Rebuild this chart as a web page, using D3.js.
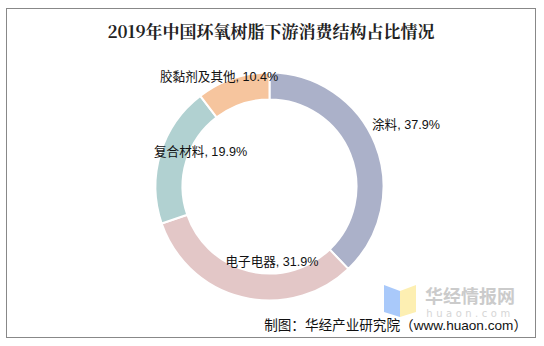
<!DOCTYPE html>
<html><head><meta charset="utf-8">
<script src="https://cdn.jsdelivr.net/npm/d3@7"></script>
<style>body{margin:0;background:#fff}svg{display:block}</style>
</head><body>
<svg id="c" width="544" height="346"></svg>
<script>
const title = "2019年中国环氧树脂下游消费结构占比情况";
const categories = ["涂料", "电子电器", "复合材料", "胶黏剂及其他"];
const values = [37.9, 31.9, 19.9, 10.4];
const colors = ["#abb1c9", "#e3c7c7", "#b1d1d1", "#f6c59e"];
const source = "制图：华经产业研究院（www.huaon.com）";

const svg = d3.select("#c");
svg.append("rect").attr("x", 6.5).attr("y", 8.5).attr("width", 529).attr("height", 329)
  .attr("fill", "#fff").attr("stroke", "#888").attr("stroke-width", 1);

svg.append("text").attr("x", 271).attr("y", 30).attr("text-anchor", "middle")
  .attr("dominant-baseline", "central")
  .style("font-family", "'Noto Serif CJK SC','DejaVu Serif','Noto Sans CJK SC',serif")
  .style("font-weight", "bold").style("font-size", "17px").attr("fill", "#222").text(title);

const cx = 269.5, cy = 186.5, rO = 114, rI = 87;
const pie = d3.pie().sort(null).value(d => d.v);
const data = pie(categories.map((c, i) => ({c, v: values[i], col: colors[i]})));
const arc = d3.arc().innerRadius(rI).outerRadius(rO);
const g = svg.append("g").attr("transform", `translate(${cx},${cy})`);
g.selectAll("path").data(data).join("path").attr("d", arc)
  .attr("fill", d => d.data.col).attr("stroke", "#fff").attr("stroke-width", 2);

const labelPos = [
  {x: 372, y: 125, anchor: "start"},
  {x: 272, y: 262, anchor: "middle"},
  {x: 154, y: 152, anchor: "start"},
  {x: 160, y: 77, anchor: "start"}
];
svg.selectAll("text.lbl").data(data).join("text").attr("class", "lbl")
  .attr("x", (d, i) => labelPos[i].x).attr("y", (d, i) => labelPos[i].y)
  .attr("text-anchor", (d, i) => labelPos[i].anchor).attr("dominant-baseline", "central")
  .style("font-family", "'Liberation Sans','Noto Sans CJK SC',sans-serif").style("font-size", "12.6px")
  .attr("fill", "#111").text(d => `${d.data.c}, ${d.data.v.toFixed(1)}%`);

const wm = svg.append("g");
wm.append("polygon").attr("points", "384,285 400,291 400,317 384,312").attr("fill", "#a9c9fa");
wm.append("polygon").attr("points", "400,291 416,285 416,312 400,317").attr("fill", "#fdefb2");
wm.append("text").attr("x", 470).attr("y", 295).attr("text-anchor", "middle").attr("dominant-baseline", "central")
  .style("font-family", "'Noto Sans CJK SC',sans-serif").style("font-weight", "bold").style("font-size", "18px")
  .attr("fill", "#cbcbcb").text("华经情报网");
wm.append("text").attr("x", 470).attr("y", 313).attr("text-anchor", "middle").attr("dominant-baseline", "central")
  .style("font-family", "'DejaVu Sans',sans-serif").style("font-size", "10px").style("letter-spacing", "3.5px")
  .attr("fill", "#d6d6d6").text("huaon.com");

svg.append("text").attr("x", 527).attr("y", 325).attr("text-anchor", "end").attr("dominant-baseline", "central")
  .style("font-family", "'Liberation Sans','Noto Sans CJK SC',sans-serif").style("font-size", "13.6px")
  .attr("fill", "#111").text(source);
</script>
</body></html>
